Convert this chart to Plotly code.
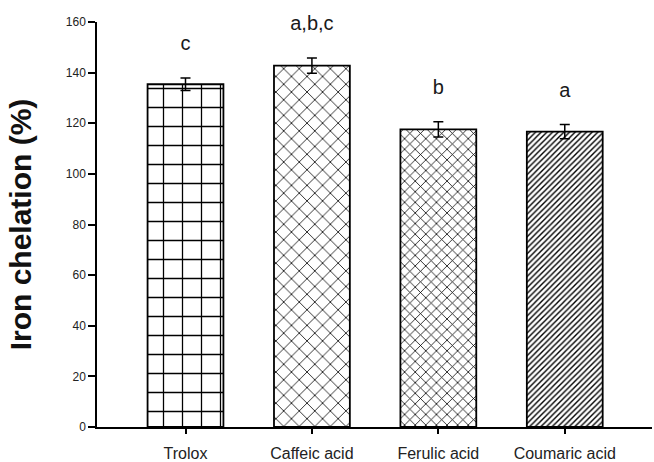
import plotly.graph_objects as go

categories = ["Trolox", "Caffeic acid", "Ferulic acid", "Coumaric acid"]
values = [135.4, 142.8, 117.6, 116.7]
errors = [2.5, 3.0, 3.0, 2.8]
letters = ["c", "a,b,c", "b", "a"]
y_ticks = [0, 20, 40, 60, 80, 100, 120, 140, 160]

shapes = ["+", "x", "x", "/"]
sizes = [19, 11, 7.5, 4]
solid = [0.13, 0.14, 0.2, 0.35]

fig = go.Figure()
fig.add_trace(go.Bar(
    x=categories, y=values, width=0.6,
    marker=dict(
        color="white",
        line=dict(color="black", width=1.8),
        pattern=dict(shape=shapes, size=sizes, solidity=solid,
                     fgcolor="black", bgcolor="white", fillmode="replace"),
    ),
    error_y=dict(type="data", array=errors, visible=True,
                 color="black", thickness=1.5, width=5),
    showlegend=False, hoverinfo="skip",
))

label_y = [v + e + 13 for v, e in zip(values, errors)]
fig.add_trace(go.Scatter(
    x=categories, y=label_y, mode="text", text=letters,
    textposition="middle center", cliponaxis=False,
    textfont=dict(family="Liberation Sans, Arial", size=20, color="#1a1a1a"),
    showlegend=False, hoverinfo="skip",
))

fig.update_layout(
    width=654, height=462,
    margin=dict(l=97, r=2, t=22, b=35, autoexpand=False),
    paper_bgcolor="white", plot_bgcolor="white",
    font=dict(family="Liberation Sans, Arial", color="#1a1a1a"),
)
fig.update_xaxes(
    range=[-0.7, 3.69], showline=True, linecolor="black", linewidth=1.5,
    ticks="outside", ticklen=5, tickwidth=1.5, tickcolor="black",
    tickfont=dict(size=16, color="#222"), ticklabelstandoff=6,
    showgrid=False, zeroline=False, automargin=False,
)
fig.update_yaxes(
    range=[0, 160], tickvals=y_ticks, showline=True, linecolor="black", linewidth=1.5,
    ticks="outside", ticklen=7, tickwidth=1.5, tickcolor="black",
    tickfont=dict(size=12, color="#222"), showgrid=False, zeroline=False, automargin=False,
    title=dict(text="<b>Iron chelation (%)</b>", font=dict(size=30, color="#111"), standoff=25),
)

fig.write_html("out.html", config={"displayModeBar": False},
               post_script="document.body.style.margin='0px';document.body.style.overflow='hidden';")
